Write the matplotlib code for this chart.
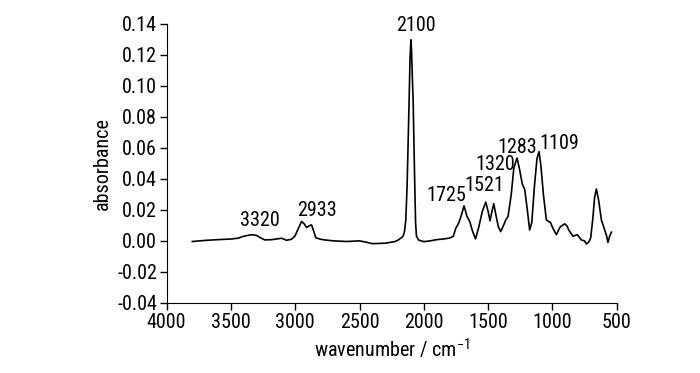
import numpy as np
import matplotlib
matplotlib.use("Agg")
import matplotlib.pyplot as plt

plt.rcParams['font.family'] = ['Roboto Condensed', 'Liberation Sans', 'DejaVu Sans']
plt.rcParams['mathtext.fontset'] = 'custom'
plt.rcParams['mathtext.rm'] = 'Roboto Condensed'
plt.rcParams['mathtext.it'] = 'Roboto Condensed'

# spectrum (wavenumber, absorbance)
wavenumber = [3800, 3700, 3600, 3500, 3446, 3400, 3340, 3300, 3270, 3236, 3180, 3106,
              3067, 3030, 3003, 2975, 2951, 2930, 2912, 2890, 2873, 2855, 2840, 2800,
              2770, 2700, 2600, 2500, 2450, 2400, 2300, 2250, 2226, 2200, 2175, 2161,
              2150, 2140, 2130, 2120, 2114, 2107, 2100, 2095, 2089, 2083, 2076, 2070,
              2064, 2057, 2040, 2000, 1950, 1900, 1850, 1800, 1770, 1752, 1728, 1710,
              1687, 1665, 1643, 1620, 1598, 1575, 1545, 1518, 1500, 1485, 1470, 1456,
              1440, 1420, 1402, 1380, 1360, 1345, 1320, 1300, 1275, 1255, 1235, 1215,
              1195, 1177, 1160, 1140, 1120, 1104, 1090, 1070, 1047, 1030, 1016, 995,
              969, 940, 904, 885, 873, 840, 806, 775, 750, 736, 715, 702, 685, 672,
              658, 640, 619, 593, 578, 568, 555, 541]
absorbance = [-0.0004, 0.0003, 0.0008, 0.0012, 0.0017, 0.003, 0.004, 0.0035, 0.002, 0.0006,
              0.0008, 0.0017, 0.0004, 0.001, 0.003, 0.008, 0.0125, 0.011, 0.0086, 0.0098,
              0.0103, 0.006, 0.002, 0.001, 0.0006, 0.0, -0.0004, 0.0, -0.0008, -0.0018,
              -0.0015, -0.0008, -0.0005, 0.0005, 0.002, 0.003, 0.006, 0.0135, 0.035, 0.07,
              0.091, 0.118, 0.1297, 0.122, 0.105, 0.091, 0.06, 0.035, 0.012, 0.003,
              0.0005, -0.0005, 0.0, 0.0008, 0.0012, 0.0018, 0.003, 0.008, 0.0116, 0.016,
              0.0226, 0.016, 0.0125, 0.006, 0.0013, 0.008, 0.019, 0.025, 0.019, 0.013,
              0.019, 0.024, 0.017, 0.009, 0.006, 0.01, 0.014, 0.0157, 0.03, 0.047,
              0.0535, 0.046, 0.037, 0.033, 0.02, 0.007, 0.012, 0.035, 0.053, 0.0576,
              0.049, 0.03, 0.0135, 0.0125, 0.012, 0.008, 0.004, 0.009, 0.011, 0.0095,
              0.007, 0.003, 0.004, 0.0006, 0.0, -0.002, -0.0005, 0.002, 0.015, 0.028,
              0.0335, 0.026, 0.0135, 0.007, 0.003, -0.001, 0.003, 0.0056]

# peak labels and where their text sits
peak_labels = ['3320', '2933', '2100', '1725', '1521', '1320', '1283', '1109']
label_x = [3275, 2834, 2064, 1824, 1526, 1448, 1277, 943]
label_y = [0.0132, 0.0195, 0.139, 0.0292, 0.0356, 0.049, 0.0603, 0.0626]

fig = plt.figure(figsize=(7, 3.73), dpi=100)
ax = fig.add_axes([0.238, 0.188, 0.643, 0.748])
ax.plot(wavenumber, absorbance, color='black', lw=1.2)

for t, x, y in zip(peak_labels, label_x, label_y):
    ax.text(x, y, t, ha='center', va='center', fontsize=14.5)

ax.set_xlim(4000, 500)
ax.set_ylim(-0.04, 0.14)
ax.set_xticks(np.arange(4000, 499, -500))
ax.set_yticks(np.arange(-0.04, 0.141, 0.02))
ax.set_yticklabels(['%.2f' % v for v in np.arange(-0.04, 0.141, 0.02)])
ax.spines['top'].set_visible(False)
ax.spines['right'].set_visible(False)
ax.tick_params(direction='out', length=5, width=1, labelsize=14.5, pad=2)
ax.set_xlabel('wavenumber / cm$^{-1}$', fontsize=14.5, labelpad=4)
ax.set_ylabel('absorbance', fontsize=14.5, labelpad=4)

fig.savefig('out.png', dpi=100)
